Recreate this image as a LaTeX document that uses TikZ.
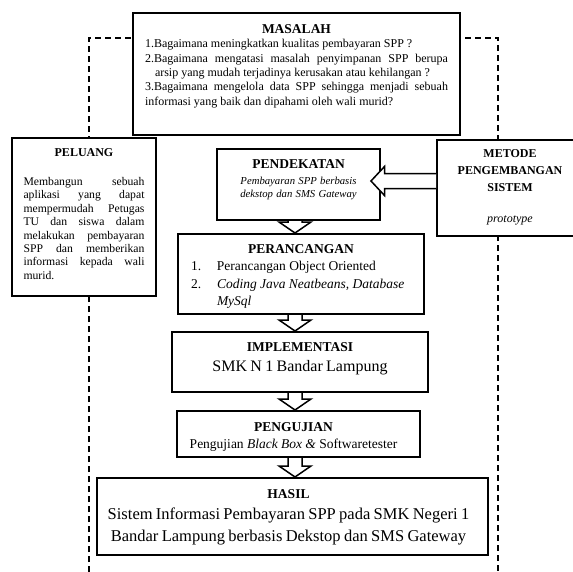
\documentclass[tikz,border=0pt]{standalone}
\usepackage{fontspec}
\setmainfont{Liberation Serif}
\usetikzlibrary{positioning,calc}
\setlength{\parindent}{0pt}
\newcommand{\judul}[2][13.5]{{\fontsize{#1}{#1}\selectfont\bfseries #2\par}}
\newcommand{\isi}[2]{\fontsize{#1}{#2}\selectfont}
\newcommand{\panahbawah}[2]{%
  \draw[panah] let \p1=(sumbu |- #1.south), \p2=(sumbu |- #2.north) in
    (\x1-7pt,\y1) -- (\x1-7pt,\y2+11pt) -- (\x1-16pt,\y2+11pt) -- (\x2,\y2)
    -- (\x1+16pt,\y2+11pt) -- (\x1+7pt,\y2+11pt) -- (\x1+7pt,\y1);}
\begin{document}
\begin{tikzpicture}[x=1pt,y=-1pt,
  kotak/.style={draw,line width=2pt,fill=white,inner sep=0pt},
  teks/.style={inner sep=0pt},
  garis/.style={line width=2pt,dash pattern=on 6pt off 4pt},
  panah/.style={line width=1.5pt,fill=white,line join=miter}]
  \useasboundingbox (0,0) rectangle (572,572);
  \coordinate (sumbu) at (295,0);
  \draw[garis] (89,572) -- (89,38) -- (498,38) -- (498,572);

  \node[kotak,minimum width=327pt,minimum height=122pt] (masalah) at (296.5,74) {};
  \node[teks,text width=303pt,align=justify,below=12.5pt of masalah.north] (isimasalah)
    {{\centering\judul{MASALAH}}\isi{12}{14.3}1.Bagaimana meningkatkan kualitas pembayaran SPP ?\par
     2.Bagaimana mengatasi masalah penyimpanan SPP berupa\linebreak\hspace*{10pt}arsip yang mudah terjadinya kerusakan atau kehilangan ?\par
     3.Bagaimana mengelola data SPP sehingga menjadi sebuah\linebreak informasi yang baik dan dipahami oleh wali murid?\par};

  \node[kotak,minimum width=144pt,minimum height=158pt] (peluang) at (84,217) {};
  \node[teks,text width=121pt,align=justify,below=11pt of peluang.north] (isipeluang)
    {{\centering\judul[12]{PELUANG}}\vspace{16pt}\isi{11.7}{13.4}Membangun sebuah\linebreak aplikasi yang dapat\linebreak
     mempermudah Petugas\linebreak TU dan siswa dalam\linebreak melakukan pembayaran\linebreak
     SPP dan memberikan\linebreak informasi kepada wali\linebreak murid.\par};

  \node[kotak,minimum width=163pt,minimum height=71pt] (pendekatan) at (298.5,184.5) {};
  \node[teks,text width=150pt,align=center,below=11pt of pendekatan.north] (isipendekatan)
    {\judul{PENDEKATAN}\vspace{3pt}\isi{10.7}{13}\itshape Pembayaran SPP berbasis\\dekstop dan SMS Gateway\par};

  \node[kotak,minimum width=146pt,minimum height=96pt] (metode) at (510,188) {};
  \node[teks,text width=130pt,align=center,below=10pt of metode.north] (isimetode)
    {{\fontsize{12}{17}\selectfont\bfseries METODE\\PENGEMBANGAN\\SISTEM\par}\vspace{14pt}\isi{12}{17}\itshape prototype\par};

  \node[kotak,minimum width=246pt,minimum height=80pt] (perancangan) at (301,274) {};
  \node[teks,text width=220pt,align=justify,below=11pt of perancangan.north] (isiperancangan)
    {{\centering\judul{PERANCANGAN}}\isi{13.5}{17.5}\makebox[26pt][l]{1.}Perancangan Object Oriented\par
     \hangindent=26pt\hangafter=1\makebox[26pt][l]{2.}\textit{Coding Java Neatbeans, Database}\newline\textit{MySql}\par};

  \node[kotak,minimum width=256pt,minimum height=60pt] (implementasi) at (300,362) {};
  \node[teks,text width=240pt,align=center,below=11.5pt of implementasi.north] (isiimplementasi)
    {\judul{IMPLEMENTASI}\isi{16}{20}SMK N 1 Bandar Lampung\par};

  \node[kotak,minimum width=243pt,minimum height=46pt] (pengujian) at (298.5,434) {};
  \node[teks,text width=230pt,align=center,below=12pt of pengujian.north,xshift=-5pt] (isipengujian)
    {\judul{PENGUJIAN}\isi{13.5}{17.5}Pengujian \textit{Black Box \&} Softwaretester\par};

  \node[kotak,minimum width=391pt,minimum height=77pt] (hasil) at (292.5,516.5) {};
  \node[teks,text width=380pt,align=center,below=12pt of hasil.north,xshift=-4pt] (isihasil)
    {\judul{HASIL}\isi{16.5}{21.5}Sistem Informasi Pembayaran SPP pada SMK Negeri 1\\Bandar Lampung berbasis Dekstop dan SMS Gateway\par};

  \draw[panah] let \p1=(metode.west), \p2=(pendekatan.east) in
    (\x1,\y2+11pt) -- (\x2+3.5pt,\y2+11pt) -- (\x2+3.5pt,\y2+18pt) -- (\x2-10pt,\y2+3.5pt)
    -- (\x2+3.5pt,\y2-11pt) -- (\x2+3.5pt,\y2-4pt) -- (\x1,\y2-4pt);
  \panahbawah{pendekatan}{perancangan}
  \panahbawah{perancangan}{implementasi}
  \panahbawah{implementasi}{pengujian}
  \panahbawah{pengujian}{hasil}
\end{tikzpicture}
\end{document}
